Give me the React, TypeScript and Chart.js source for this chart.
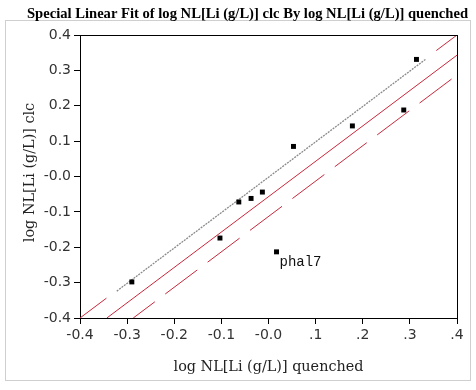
import React, { useEffect, useRef } from "react";
import { Chart, registerables } from "chart.js";

Chart.register(...registerables);

// Observed data points
const pointX = [-0.29, -0.103, -0.063, -0.037, -0.013, 0.017, 0.053, 0.178, 0.287, 0.314];
const pointY = [-0.298, -0.174, -0.072, -0.062, -0.044, -0.213, 0.085, 0.143, 0.188, 0.331];
const pointLabels = ["", "", "", "", "", "phal7", "", "", "", ""];

// Axis ticks
const tickValues = [-0.4, -0.3, -0.2, -0.1, 0, 0.1, 0.2, 0.3, 0.4];
const xTickLabels = ["-0.4", "-0.3", "-0.2", "-0.1", "-0.0", ".1", ".2", ".3", ".4"];
const yTickLabels = ["-0.4", "-0.3", "-0.2", "-0.1", "-0.0", "0.1", "0.2", "0.3", "0.4"];

// Fit line (slope 1) and its band lines: x endpoints and y values
const fitLineX = [-0.322, 0.333];
const fitLineY = [-0.324, 0.331];
const upperBandX = [-0.4, -0.343, null, 0.356, 0.4];
const upperBandY = [-0.4, -0.343, null, 0.356, 0.4];
const midLineX = [-0.343, 0.4];
const midLineY = [-0.4, 0.343];
const lowerBandX = [-0.287, 0.4];
const lowerBandY = [-0.4, 0.287];

const TITLE = "Special Linear Fit of log NL[Li (g/L)] clc By log NL[Li (g/L)] quenched";
const X_TITLE = "log NL[Li (g/L)] quenched";
const Y_TITLE = "log NL[Li (g/L)] clc";

const RED = "#c8283c";

const pairs = (xs: (number | null)[], ys: (number | null)[]) =>
  xs.map((x, i) => ({ x: x === null ? NaN : x, y: ys[i] === null ? NaN : (ys[i] as number) }));

const decorPlugin = {
  id: "decor",
  afterDraw(chart: any) {
    const { ctx, chartArea } = chart;
    const { left, right, top, bottom } = chartArea;
    ctx.save();
    // outer frame
    ctx.strokeStyle = "#cfcfcf";
    ctx.lineWidth = 1;
    ctx.strokeRect(5.5, 20.5, 465, 360);
    // top & right border of plot
    ctx.strokeStyle = "#000";
    ctx.beginPath();
    ctx.moveTo(left, Math.round(top) + 0.5);
    ctx.lineTo(right, Math.round(top) + 0.5);
    ctx.moveTo(Math.round(right) + 0.5, top);
    ctx.lineTo(Math.round(right) + 0.5, bottom);
    ctx.stroke();
    // title
    ctx.fillStyle = "#000";
    ctx.font = 'bold 14.6px "Liberation Serif"';
    ctx.textAlign = "center";
    ctx.textBaseline = "alphabetic";
    ctx.fillText(TITLE, 247.5, 18);
    // axis titles
    ctx.font = '14.4px "DejaVu Serif"';
    ctx.fillStyle = "#222";
    ctx.textBaseline = "middle";
    ctx.fillText(X_TITLE, (left + right) / 2, 367);
    ctx.save();
    ctx.translate(30, (top + bottom) / 2 - 4);
    ctx.rotate(-Math.PI / 2);
    ctx.fillText(Y_TITLE, 0, 0);
    ctx.restore();
    // point labels
    const meta = chart.getDatasetMeta(0);
    ctx.font = '14px "Liberation Mono"';
    ctx.textAlign = "left";
    ctx.textBaseline = "alphabetic";
    ctx.fillStyle = "#111";
    meta.data.forEach((el: any, i: number) => {
      if (pointLabels[i]) ctx.fillText(pointLabels[i], el.x + 3, el.y + 14);
    });
    ctx.restore();
  },
};

export default function App() {
  const ref = useRef<HTMLCanvasElement>(null);
  useEffect(() => {
    const canvas = ref.current!;
    const tickFont = { family: '"DejaVu Sans"', size: 14 };
    const chart = new Chart(canvas, {
      type: "scatter",
      data: {
        datasets: [
          {
            label: "points",
            data: pairs(pointX, pointY),
            pointStyle: "rect",
            pointRadius: 3.5,
            backgroundColor: "#000",
            borderColor: "#000",
            borderWidth: 0,
            showLine: false,
          },
          {
            label: "fit",
            data: pairs(fitLineX, fitLineY),
            showLine: true,
            pointRadius: 0,
            borderColor: "#8a8a8a",
            borderWidth: 1.3,
            borderDash: [2, 1],
          },
          {
            label: "upper",
            data: pairs(upperBandX, upperBandY),
            showLine: true,
            spanGaps: false,
            pointRadius: 0,
            borderColor: RED,
            borderWidth: 1,
            borderDash: [40, 13],
            borderDashOffset: 7,
          },
          {
            label: "mid",
            data: pairs(midLineX, midLineY),
            showLine: true,
            pointRadius: 0,
            borderColor: RED,
            borderWidth: 1,
          },
          {
            label: "lower",
            data: pairs(lowerBandX, lowerBandY),
            showLine: true,
            pointRadius: 0,
            borderColor: RED,
            borderWidth: 1,
            borderDash: [40, 13],
            borderDashOffset: 13,
          },
        ],
      },
      options: {
        animation: false,
        responsive: false,
        devicePixelRatio: 1,
        layout: { padding: { top: 35, left: 0, right: 19, bottom: 0 } },
        plugins: { legend: { display: false }, tooltip: { enabled: false }, title: { display: false } },
        scales: {
          x: {
            type: "linear",
            min: -0.4,
            max: 0.4,
            afterFit: (s: any) => {
              s.height = 72;
            },
            afterBuildTicks: (s: any) => {
              s.ticks = tickValues.map((v) => ({ value: v }));
            },
            ticks: {
              callback: (_v: any, i: number) => xTickLabels[i],
              font: tickFont,
              color: "#333",
              padding: 3,
              maxRotation: 0,
              autoSkip: false,
            },
            grid: { drawOnChartArea: false, drawTicks: true, tickLength: 6, color: "#000" },
            border: { display: true, color: "#000", width: 1 },
          },
          y: {
            type: "linear",
            min: -0.4,
            max: 0.4,
            afterFit: (s: any) => {
              s.width = 80;
            },
            afterBuildTicks: (s: any) => {
              s.ticks = tickValues.map((v) => ({ value: v }));
            },
            ticks: {
              callback: (_v: any, i: number) => yTickLabels[i],
              font: tickFont,
              color: "#333",
              padding: 3,
              autoSkip: false,
            },
            grid: { drawOnChartArea: false, drawTicks: true, tickLength: 6, color: "#000" },
            border: { display: true, color: "#000", width: 1 },
          },
        },
      },
      plugins: [decorPlugin],
    } as any);
    return () => chart.destroy();
  }, []);
  return (
    <div style={{ position: "fixed", left: 0, top: 0, width: 476, height: 390, background: "#fff" }}>
      <canvas ref={ref} width={476} height={390} style={{ width: 476, height: 390, display: "block" }} />
    </div>
  );
}
